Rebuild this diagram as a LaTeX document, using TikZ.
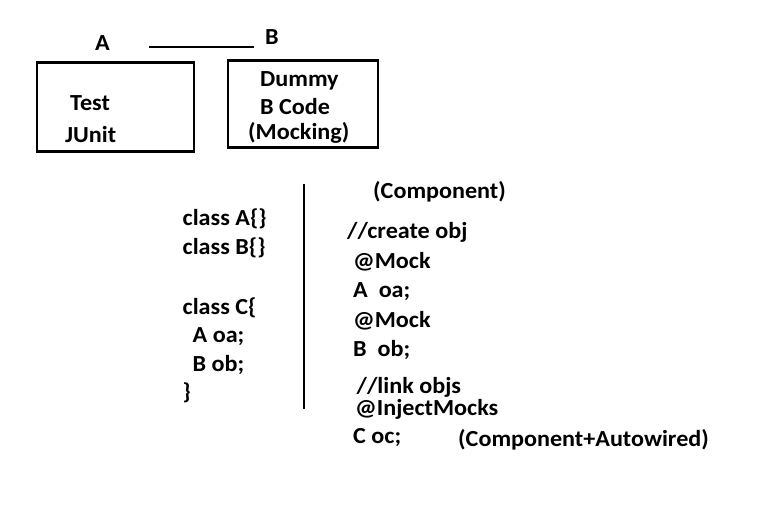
\documentclass[tikz,border=0pt]{standalone}
\usepackage{fontspec}
\setmainfont[FakeStretch=1.05]{Carlito}
\begin{document}
\begin{tikzpicture}[x=1pt,y=-1pt,
  txt/.style={anchor=base west,inner sep=0pt,font=\fontsize{23}{27}\selectfont\bfseries},
  box/.style={draw,line width=2.6pt,inner sep=0pt},
  rule/.style={line width=2.8pt}]
\useasboundingbox (0,0) rectangle (784,520);
\fill[white] (0,0) rectangle (784,520);
% top
\node[txt] (a) at (95,50.5) {A};
\node[txt] (b) at (265,44) {B};
\coordinate (l1) at (149,47);
\coordinate (l2) at (254,47);
\draw[rule] (l1) -- (l2);
\node[box,minimum width=157,minimum height=89] (boxa) at (115.5,107) {};
\node[box,minimum width=150,minimum height=87] (boxb) at (303,104) {};
\node[txt] (test) at (70,110.5) {Test};
\node[txt] (junit) at (65,142.5) {JUnit};
\node[txt] (dummy) at (260,86) {Dummy};
\node[txt] (bcode) at (260,114) {B Code};
\node[txt] (mocking) at (248,139) {(Mocking)};
% left column
\node[txt] (ca) at (182.5,225) {class A\{\}};
\node[txt] (cb) at (182.5,254) {class B\{\}};
\node[txt] (cc) at (182.5,314.5) {class C\{};
\node[txt] (aoa) at (192.5,342.5) {A oa;};
\node[txt] (bob) at (192.5,371.5) {B ob;};
\node[txt] (close) at (182.5,399.5) {\}};
% divider
\coordinate (v1) at (304,184);
\coordinate (v2) at (304,409);
\draw[rule] (v1) -- (v2);
% right column
\node[txt] (comp) at (373,198.5) {(Component)};
\node[txt] (create) at (347,238) {//create obj};
\node[txt] (mock1) at (353,268) {@Mock};
\node[txt] (roa) at (353,297) {A\ \ oa;};
\node[txt] (mock2) at (353,327) {@Mock};
\node[txt] (rob) at (353,356) {B\ \ ob;};
\node[txt] (link) at (356.5,393) {//link objs};
\node[txt] (inject) at (355,415) {@InjectMocks};
\node[txt] (coc) at (353,443.5) {C oc;};
\node[txt] (compaut) at (458,446.5) {(Component+Autowired)};
\end{tikzpicture}
\end{document}
